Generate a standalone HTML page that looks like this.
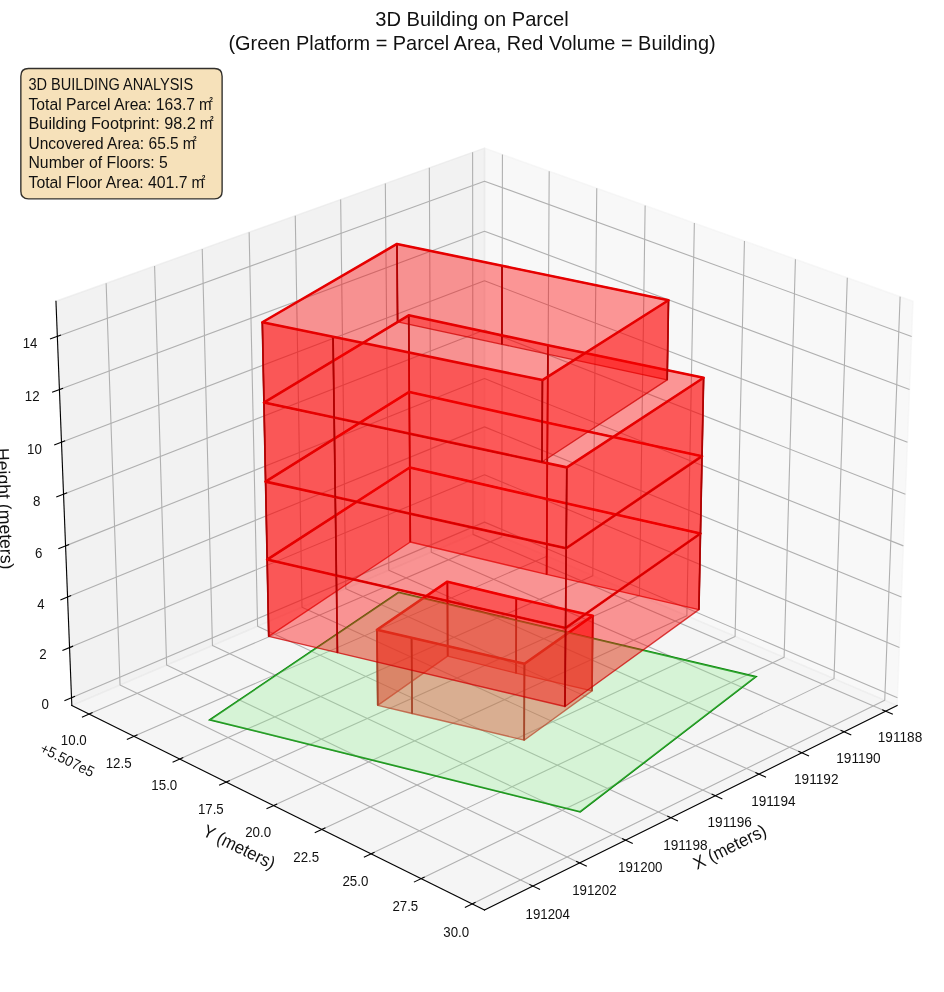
<!DOCTYPE html>
<html><head><meta charset="utf-8"><title>3D Building on Parcel</title>
<style>html,body{margin:0;padding:0;background:#fff}body{width:944px;height:992px;overflow:hidden;font-family:"Liberation Sans",sans-serif}</style></head>
<body>
<svg width="944" height="992" viewBox="0 0 944 992" style="display:block;font-family:'Liberation Sans',sans-serif">
<rect width="944" height="992" fill="#fff"/>
<g stroke-linejoin="round">
<polygon points="484.49,529.49 897.14,705.55 913.01,301.25 484.49,148.07" fill="rgb(242,242,242)" fill-opacity="0.5" stroke="rgb(242,242,242)" stroke-opacity="0.5" stroke-width="1.39"/>
<polygon points="484.49,529.49 71.83,705.55 55.96,301.25 484.49,148.07" fill="rgb(230,230,230)" fill-opacity="0.5" stroke="rgb(230,230,230)" stroke-opacity="0.5" stroke-width="1.39"/>
<polygon points="484.49,529.49 71.83,705.55 484.49,910.12 897.14,705.55" fill="rgb(236,236,236)" fill-opacity="0.5" stroke="rgb(236,236,236)" stroke-opacity="0.5" stroke-width="1.39"/>
</g>
<g fill="none" stroke="#b0b0b0" stroke-width="1.1" stroke-linejoin="round">
<polyline points="885.74,711.21 473.02,534.38 472.61,152.31"/>
<polyline points="844.15,731.82 431.24,552.21 429.32,167.79"/>
<polyline points="801.88,752.78 388.81,570.31 385.34,183.51"/>
<polyline points="758.91,774.08 345.74,588.69 340.66,199.48"/>
<polyline points="715.22,795.74 301.99,607.35 295.26,215.71"/>
<polyline points="670.8,817.76 257.57,626.31 249.13,232.2"/>
<polyline points="625.62,840.15 212.45,645.56 202.24,248.96"/>
<polyline points="579.67,862.93 166.61,665.12 154.58,265.99"/>
<polyline points="532.93,886.1 120.03,684.99 106.14,283.31"/>
<polyline points="502.42,154.48 501.8,536.88 89.05,714.09"/>
<polyline points="549.19,171.2 546.93,556.13 133.98,736.36"/>
<polyline points="596.76,188.2 592.81,575.71 179.71,759.03"/>
<polyline points="645.14,205.49 639.45,595.61 226.25,782.1"/>
<polyline points="694.36,223.09 686.87,615.84 273.63,805.59"/>
<polyline points="744.45,240.99 735.08,636.41 321.87,829.51"/>
<polyline points="795.42,259.21 784.12,657.33 371.01,853.86"/>
<polyline points="847.3,277.76 834.01,678.62 421.05,878.67"/>
<polyline points="900.11,296.63 884.75,700.27 472.03,903.94"/>
<polyline points="71.52,697.76 484.49,522.12 897.45,697.76"/>
<polyline points="69.56,647.61 484.49,474.7 899.42,647.61"/>
<polyline points="67.57,596.99 484.49,426.87 901.4,596.99"/>
<polyline points="65.56,545.87 484.49,378.6 903.41,545.87"/>
<polyline points="63.54,494.26 484.49,329.91 905.44,494.26"/>
<polyline points="61.49,442.15 484.49,280.77 907.48,442.15"/>
<polyline points="59.43,389.54 484.49,231.19 909.55,389.54"/>
<polyline points="57.34,336.4 484.49,181.15 911.63,336.4"/>
</g>
<g fill="none" stroke="#000" stroke-width="1.1" stroke-linecap="square">
<polyline points="897.14,705.55 484.49,910.12"/>
<polyline points="71.83,705.55 484.49,910.12"/>
<polyline points="71.83,705.55 55.96,301.25"/>
</g>
<g fill="none" stroke="#000" stroke-width="1.1" stroke-linecap="butt">
<polyline points="882.19,709.69 892.85,714.25"/>
<polyline points="840.6,730.28 851.27,734.92"/>
<polyline points="798.33,751.21 809,755.92"/>
<polyline points="755.35,772.48 766.04,777.28"/>
<polyline points="711.66,794.11 722.36,798.99"/>
<polyline points="667.24,816.11 677.94,821.07"/>
<polyline points="622.06,838.47 632.76,843.52"/>
<polyline points="576.11,861.22 586.82,866.35"/>
<polyline points="529.37,884.37 540.08,889.58"/>
<polyline points="92.6,712.57 81.94,717.14"/>
<polyline points="137.53,734.81 126.86,739.47"/>
<polyline points="183.26,757.45 172.58,762.19"/>
<polyline points="229.81,780.5 219.12,785.32"/>
<polyline points="277.19,803.96 266.49,808.87"/>
<polyline points="325.44,827.84 314.74,832.84"/>
<polyline points="374.57,852.17 363.86,857.26"/>
<polyline points="424.61,876.94 413.9,882.13"/>
<polyline points="475.59,902.18 464.88,907.47"/>
<polyline points="75.07,696.25 64.41,700.79"/>
<polyline points="73.12,646.13 62.41,650.59"/>
<polyline points="71.15,595.52 60.38,599.92"/>
<polyline points="69.17,544.43 58.34,548.76"/>
<polyline points="67.16,492.85 56.28,497.1"/>
<polyline points="65.13,440.77 54.19,444.94"/>
<polyline points="63.09,388.17 52.09,392.27"/>
<polyline points="61.02,335.06 49.97,339.08"/>
</g>
<polygon points="210,719.76 398.59,592.48 755.88,676.78 580.18,811.75" fill="none" stroke="#008000" stroke-width="1.75" stroke-linejoin="miter"/>
<g stroke-linejoin="round" stroke-linecap="round">
<polygon points="546.62,574.4 410.3,542.02 409.78,467.51 547.06,499.09" fill="rgb(255,0,0)" fill-opacity="0.4" stroke="#cc0000" stroke-opacity="0.72" stroke-width="1.35"/>
<path d="M410.3 542.02L409.78 467.51M547.06 499.09L546.62 574.4" fill="none" stroke="#a00000" stroke-opacity="0.62" stroke-width="1.7" stroke-linecap="butt"/>
<polygon points="516.07,673.15 447.66,656.12 447.4,581.69 516.29,598.32" fill="rgb(255,0,0)" fill-opacity="0.4" stroke="#cc0000" stroke-opacity="0.72" stroke-width="1.35"/>
<path d="M447.66 656.12L447.4 581.69M516.29 598.32L516.07 673.15" fill="none" stroke="#a00000" stroke-opacity="0.62" stroke-width="1.7" stroke-linecap="butt"/>
<polygon points="547.06,499.09 409.78,467.51 409.26,391.94 547.5,422.7" fill="rgb(255,0,0)" fill-opacity="0.4" stroke="#cc0000" stroke-opacity="0.72" stroke-width="1.35"/>
<path d="M409.78 467.51L409.26 391.94M547.5 422.7L547.06 499.09" fill="none" stroke="#a00000" stroke-opacity="0.62" stroke-width="1.7" stroke-linecap="butt"/>
<polygon points="592.02,690.89 516.07,673.15 516.29,598.32 592.79,615.65" fill="rgb(255,0,0)" fill-opacity="0.4" stroke="#cc0000" stroke-opacity="0.72" stroke-width="1.35"/>
<path d="M516.07 673.15L516.29 598.32M592.79 615.65L592.02 690.89" fill="none" stroke="#a00000" stroke-opacity="0.62" stroke-width="1.7" stroke-linecap="butt"/>
<polygon points="547.5,422.7 409.26,391.94 408.72,315.31 547.96,345.21" fill="rgb(255,0,0)" fill-opacity="0.4" stroke="#cc0000" stroke-opacity="0.72" stroke-width="1.35"/>
<path d="M409.26 391.94L408.72 315.31M547.96 345.21L547.5 422.7" fill="none" stroke="#a00000" stroke-opacity="0.62" stroke-width="1.7" stroke-linecap="butt"/>
<polygon points="698.92,609.65 546.62,574.4 547.06,499.09 700.46,533.47" fill="rgb(255,0,0)" fill-opacity="0.4" stroke="#cc0000" stroke-opacity="0.72" stroke-width="1.35"/>
<path d="M546.62 574.4L547.06 499.09M700.46 533.47L698.92 609.65" fill="none" stroke="#a00000" stroke-opacity="0.62" stroke-width="1.7" stroke-linecap="butt"/>
<polygon points="447.66,656.12 377.74,705.36 376.98,629.79 447.4,581.69" fill="rgb(255,0,0)" fill-opacity="0.4" stroke="#cc0000" stroke-opacity="0.72" stroke-width="1.35"/>
<path d="M377.74 705.36L376.98 629.79M447.4 581.69L447.66 656.12" fill="none" stroke="#a00000" stroke-opacity="0.62" stroke-width="1.7" stroke-linecap="butt"/>
<polygon points="377.74,705.36 412.09,713.48 411.57,637.72 376.98,629.79" fill="rgb(255,0,0)" fill-opacity="0.4" stroke="#cc0000" stroke-opacity="0.72" stroke-width="1.35"/>
<path d="M412.09 713.48L411.57 637.72M376.98 629.79L377.74 705.36" fill="none" stroke="#a00000" stroke-opacity="0.62" stroke-width="1.7" stroke-linecap="butt"/>
<polygon points="501.97,344.31 397.58,321.91 396.96,243.99 502.1,265.73" fill="rgb(255,0,0)" fill-opacity="0.4" stroke="#cc0000" stroke-opacity="0.72" stroke-width="1.35"/>
<path d="M397.58 321.91L396.96 243.99M502.1 265.73L501.97 344.31" fill="none" stroke="#a00000" stroke-opacity="0.62" stroke-width="1.7" stroke-linecap="butt"/>
<polygon points="700.46,533.47 547.06,499.09 547.5,422.7 702.02,456.19" fill="rgb(255,0,0)" fill-opacity="0.4" stroke="#cc0000" stroke-opacity="0.72" stroke-width="1.35"/>
<path d="M547.06 499.09L547.5 422.7M702.02 456.19L700.46 533.47" fill="none" stroke="#a00000" stroke-opacity="0.62" stroke-width="1.7" stroke-linecap="butt"/>
<polygon points="410.3,542.02 268.72,636.41 267.16,559.58 409.78,467.51" fill="rgb(255,0,0)" fill-opacity="0.4" stroke="#cc0000" stroke-opacity="0.72" stroke-width="1.35"/>
<path d="M268.72 636.41L267.16 559.58M409.78 467.51L410.3 542.02" fill="none" stroke="#a00000" stroke-opacity="0.62" stroke-width="1.7" stroke-linecap="butt"/>
<polygon points="702.02,456.19 547.5,422.7 547.96,345.21 703.61,377.78" fill="rgb(255,0,0)" fill-opacity="0.4" stroke="#cc0000" stroke-opacity="0.72" stroke-width="1.35"/>
<path d="M547.5 422.7L547.96 345.21M703.61 377.78L702.02 456.19" fill="none" stroke="#a00000" stroke-opacity="0.62" stroke-width="1.7" stroke-linecap="butt"/>
<polygon points="412.09,713.48 524.17,740.18 524.46,663.81 411.57,637.72" fill="rgb(255,0,0)" fill-opacity="0.4" stroke="#cc0000" stroke-opacity="0.72" stroke-width="1.35"/>
<path d="M524.17 740.18L524.46 663.81M411.57 637.72L412.09 713.48" fill="none" stroke="#a00000" stroke-opacity="0.62" stroke-width="1.7" stroke-linecap="butt"/>
<polygon points="524.17,740.18 592.02,690.89 592.79,615.65 524.46,663.81" fill="rgb(255,0,0)" fill-opacity="0.4" stroke="#cc0000" stroke-opacity="0.72" stroke-width="1.35"/>
<path d="M592.02 690.89L592.79 615.65M524.46 663.81L524.17 740.18" fill="none" stroke="#a00000" stroke-opacity="0.62" stroke-width="1.7" stroke-linecap="butt"/>
<polygon points="376.98,629.79 411.57,637.72 524.46,663.81 592.79,615.65 516.29,598.32 447.4,581.69" fill="none" stroke="#e60000" stroke-width="2.6"/>
<polygon points="210,719.76 398.59,592.48 755.88,676.78 580.18,811.75" fill="rgb(144,238,144)" fill-opacity="0.3" stroke="rgb(144,238,144)" stroke-opacity="0.3" stroke-width="0.6"/>
<polygon points="268.72,636.41 337.45,652.65 336.38,575.43 267.16,559.58" fill="rgb(255,0,0)" fill-opacity="0.4" stroke="#cc0000" stroke-opacity="0.72" stroke-width="1.35"/>
<path d="M337.45 652.65L336.38 575.43M267.16 559.58L268.72 636.41" fill="none" stroke="#a00000" stroke-opacity="0.62" stroke-width="1.7" stroke-linecap="butt"/>
<polygon points="409.78,467.51 267.16,559.58 265.57,481.63 409.26,391.94" fill="rgb(255,0,0)" fill-opacity="0.4" stroke="#cc0000" stroke-opacity="0.72" stroke-width="1.35"/>
<path d="M267.16 559.58L265.57 481.63M409.26 391.94L409.78 467.51" fill="none" stroke="#a00000" stroke-opacity="0.62" stroke-width="1.7" stroke-linecap="butt"/>
<polygon points="667.18,379.88 501.97,344.31 502.1,265.73 668.52,300.26" fill="rgb(255,0,0)" fill-opacity="0.4" stroke="#cc0000" stroke-opacity="0.72" stroke-width="1.35"/>
<path d="M501.97 344.31L502.1 265.73M668.52 300.26L667.18 379.88" fill="none" stroke="#a00000" stroke-opacity="0.62" stroke-width="1.7" stroke-linecap="butt"/>
<polygon points="267.16,559.58 336.38,575.43 335.29,497.07 265.57,481.63" fill="rgb(255,0,0)" fill-opacity="0.4" stroke="#cc0000" stroke-opacity="0.72" stroke-width="1.35"/>
<path d="M336.38 575.43L335.29 497.07M265.57 481.63L267.16 559.58" fill="none" stroke="#a00000" stroke-opacity="0.62" stroke-width="1.7" stroke-linecap="butt"/>
<polygon points="409.26,391.94 265.57,481.63 263.95,402.53 408.72,315.31" fill="rgb(255,0,0)" fill-opacity="0.4" stroke="#cc0000" stroke-opacity="0.72" stroke-width="1.35"/>
<path d="M265.57 481.63L263.95 402.53M408.72 315.31L409.26 391.94" fill="none" stroke="#a00000" stroke-opacity="0.62" stroke-width="1.7" stroke-linecap="butt"/>
<polygon points="265.57,481.63 335.29,497.07 334.18,417.55 263.95,402.53" fill="rgb(255,0,0)" fill-opacity="0.4" stroke="#cc0000" stroke-opacity="0.72" stroke-width="1.35"/>
<path d="M335.29 497.07L334.18 417.55M263.95 402.53L265.57 481.63" fill="none" stroke="#a00000" stroke-opacity="0.62" stroke-width="1.7" stroke-linecap="butt"/>
<polygon points="397.58,321.91 263.95,402.53 262.32,322.25 396.96,243.99" fill="rgb(255,0,0)" fill-opacity="0.4" stroke="#cc0000" stroke-opacity="0.72" stroke-width="1.35"/>
<path d="M263.95 402.53L262.32 322.25M396.96 243.99L397.58 321.91" fill="none" stroke="#a00000" stroke-opacity="0.62" stroke-width="1.7" stroke-linecap="butt"/>
<polygon points="337.45,652.65 564.97,706.47 565.58,627.96 336.38,575.43" fill="rgb(255,0,0)" fill-opacity="0.4" stroke="#cc0000" stroke-opacity="0.72" stroke-width="1.35"/>
<path d="M564.97 706.47L565.58 627.96M336.38 575.43L337.45 652.65" fill="none" stroke="#a00000" stroke-opacity="0.62" stroke-width="1.7" stroke-linecap="butt"/>
<polygon points="564.97,706.47 698.92,609.65 700.46,533.47 565.58,627.96" fill="rgb(255,0,0)" fill-opacity="0.4" stroke="#cc0000" stroke-opacity="0.72" stroke-width="1.35"/>
<path d="M698.92 609.65L700.46 533.47M565.58 627.96L564.97 706.47" fill="none" stroke="#a00000" stroke-opacity="0.62" stroke-width="1.7" stroke-linecap="butt"/>
<polygon points="267.16,559.58 336.38,575.43 565.58,627.96 700.46,533.47 547.06,499.09 409.78,467.51" fill="none" stroke="#e60000" stroke-width="2.6"/>
<polygon points="263.95,402.53 334.18,417.55 333.06,336.84 262.32,322.25" fill="rgb(255,0,0)" fill-opacity="0.4" stroke="#cc0000" stroke-opacity="0.72" stroke-width="1.35"/>
<path d="M334.18 417.55L333.06 336.84M262.32 322.25L263.95 402.53" fill="none" stroke="#a00000" stroke-opacity="0.62" stroke-width="1.7" stroke-linecap="butt"/>
<polygon points="336.38,575.43 565.58,627.96 566.19,548.27 335.29,497.07" fill="rgb(255,0,0)" fill-opacity="0.4" stroke="#cc0000" stroke-opacity="0.72" stroke-width="1.35"/>
<path d="M565.58 627.96L566.19 548.27M335.29 497.07L336.38 575.43" fill="none" stroke="#a00000" stroke-opacity="0.62" stroke-width="1.7" stroke-linecap="butt"/>
<polygon points="565.58,627.96 700.46,533.47 702.02,456.19 566.19,548.27" fill="rgb(255,0,0)" fill-opacity="0.4" stroke="#cc0000" stroke-opacity="0.72" stroke-width="1.35"/>
<path d="M700.46 533.47L702.02 456.19M566.19 548.27L565.58 627.96" fill="none" stroke="#a00000" stroke-opacity="0.62" stroke-width="1.7" stroke-linecap="butt"/>
<polygon points="265.57,481.63 335.29,497.07 566.19,548.27 702.02,456.19 547.5,422.7 409.26,391.94" fill="none" stroke="#e60000" stroke-width="2.6"/>
<polygon points="335.29,497.07 566.19,548.27 566.81,467.37 334.18,417.55" fill="rgb(255,0,0)" fill-opacity="0.4" stroke="#cc0000" stroke-opacity="0.72" stroke-width="1.35"/>
<path d="M566.19 548.27L566.81 467.37M334.18 417.55L335.29 497.07" fill="none" stroke="#a00000" stroke-opacity="0.62" stroke-width="1.7" stroke-linecap="butt"/>
<polygon points="566.19,548.27 702.02,456.19 703.61,377.78 566.81,467.37" fill="rgb(255,0,0)" fill-opacity="0.4" stroke="#cc0000" stroke-opacity="0.72" stroke-width="1.35"/>
<path d="M702.02 456.19L703.61 377.78M566.81 467.37L566.19 548.27" fill="none" stroke="#a00000" stroke-opacity="0.62" stroke-width="1.7" stroke-linecap="butt"/>
<polygon points="263.95,402.53 334.18,417.55 566.81,467.37 703.61,377.78 547.96,345.21 408.72,315.31" fill="none" stroke="#e60000" stroke-width="2.6"/>
<polygon points="334.18,417.55 541.99,462.04 542.43,380.06 333.06,336.84" fill="rgb(255,0,0)" fill-opacity="0.4" stroke="#cc0000" stroke-opacity="0.72" stroke-width="1.35"/>
<path d="M541.99 462.04L542.43 380.06M333.06 336.84L334.18 417.55" fill="none" stroke="#a00000" stroke-opacity="0.62" stroke-width="1.7" stroke-linecap="butt"/>
<polygon points="541.99,462.04 667.18,379.88 668.52,300.26 542.43,380.06" fill="rgb(255,0,0)" fill-opacity="0.4" stroke="#cc0000" stroke-opacity="0.72" stroke-width="1.35"/>
<path d="M667.18 379.88L668.52 300.26M542.43 380.06L541.99 462.04" fill="none" stroke="#a00000" stroke-opacity="0.62" stroke-width="1.7" stroke-linecap="butt"/>
<polygon points="262.32,322.25 333.06,336.84 542.43,380.06 668.52,300.26 502.1,265.73 396.96,243.99" fill="none" stroke="#e60000" stroke-width="2.6"/>
</g>
<path d="M28.48 198.82 L214.48 198.82 Q222.12 198.82 222.12 191.18 L222.12 76.18 Q222.12 68.54 214.48 68.54 L28.48 68.54 Q20.84 68.54 20.84 76.18 L20.84 191.18 Q20.84 198.82 28.48 198.82 Z" fill="rgb(245,222,179)" fill-opacity="0.9" stroke="#000" stroke-opacity="0.8" stroke-width="1.39" stroke-linejoin="miter"/>
<g opacity="0.999">
<text transform="translate(375.25,25.68)" font-size="20.81" fill="#111" textLength="193.5" lengthAdjust="spacingAndGlyphs">3D Building on Parcel</text>
<text transform="translate(228.38,50.07)" font-size="20.81" fill="#111" textLength="487.25" lengthAdjust="spacingAndGlyphs">(Green Platform = Parcel Area, Red Volume = Building)</text>
<text transform="translate(28.48,89.98)" font-size="16.35" fill="#111" textLength="164.62" lengthAdjust="spacingAndGlyphs">3D BUILDING ANALYSIS</text>
<g transform="translate(28.48,109.58)" fill="#111"><text font-size="16.35" textLength="166.62" lengthAdjust="spacingAndGlyphs">Total Parcel Area: 163.7</text><text x="170.6" font-size="16.02" textLength="12.6" lengthAdjust="spacingAndGlyphs">m</text><text x="180.9" y="-7.9" font-size="7" font-weight="bold" textLength="3.7" lengthAdjust="spacingAndGlyphs">2</text></g>
<g transform="translate(28.48,129.18)" fill="#111"><text font-size="16.35" textLength="167.38" lengthAdjust="spacingAndGlyphs">Building Footprint: 98.2</text><text x="171.35" font-size="16.02" textLength="12.6" lengthAdjust="spacingAndGlyphs">m</text><text x="181.65" y="-7.9" font-size="7" font-weight="bold" textLength="3.7" lengthAdjust="spacingAndGlyphs">2</text></g>
<g transform="translate(28.48,148.78)" fill="#111"><text font-size="16.35" textLength="150.25" lengthAdjust="spacingAndGlyphs">Uncovered Area: 65.5</text><text x="154.22" font-size="16.02" textLength="12.6" lengthAdjust="spacingAndGlyphs">m</text><text x="164.53" y="-7.9" font-size="7" font-weight="bold" textLength="3.7" lengthAdjust="spacingAndGlyphs">2</text></g>
<text transform="translate(28.48,168.38)" font-size="16.35" fill="#111" textLength="139.38" lengthAdjust="spacingAndGlyphs">Number of Floors: 5</text>
<g transform="translate(28.48,187.98)" fill="#111"><text font-size="16.35" textLength="159.12" lengthAdjust="spacingAndGlyphs">Total Floor Area: 401.7</text><text x="163.1" font-size="16.02" textLength="12.6" lengthAdjust="spacingAndGlyphs">m</text><text x="173.4" y="-7.9" font-size="7" font-weight="bold" textLength="3.7" lengthAdjust="spacingAndGlyphs">2</text></g>
<text transform="translate(877.79,742.18)" font-size="14.86" fill="#111" textLength="44.41" lengthAdjust="spacingAndGlyphs">191188</text>
<text transform="translate(836.26,762.98)" font-size="14.86" fill="#111" textLength="44.41" lengthAdjust="spacingAndGlyphs">191190</text>
<text transform="translate(794.05,784.12)" font-size="14.86" fill="#111" textLength="44.41" lengthAdjust="spacingAndGlyphs">191192</text>
<text transform="translate(751.21,805.62)" font-size="14.86" fill="#111" textLength="44.29" lengthAdjust="spacingAndGlyphs">191194</text>
<text transform="translate(707.52,827.47)" font-size="14.86" fill="#111" textLength="44.41" lengthAdjust="spacingAndGlyphs">191196</text>
<text transform="translate(663.16,849.69)" font-size="14.86" fill="#111" textLength="44.41" lengthAdjust="spacingAndGlyphs">191198</text>
<text transform="translate(618.05,872.28)" font-size="14.86" fill="#111" textLength="44.41" lengthAdjust="spacingAndGlyphs">191200</text>
<text transform="translate(572.17,895.27)" font-size="14.86" fill="#111" textLength="44.41" lengthAdjust="spacingAndGlyphs">191202</text>
<text transform="translate(525.55,918.65)" font-size="14.86" fill="#111" textLength="44.29" lengthAdjust="spacingAndGlyphs">191204</text>
<text transform="translate(697.08,869.91) rotate(-26.37)" font-size="17.83" fill="#111" textLength="79" lengthAdjust="spacingAndGlyphs">X (meters)</text>
<text transform="translate(60.84,745.09)" font-size="14.86" fill="#111" textLength="25.9" lengthAdjust="spacingAndGlyphs">10.0</text>
<text transform="translate(105.7,767.56)" font-size="14.86" fill="#111" textLength="25.9" lengthAdjust="spacingAndGlyphs">12.5</text>
<text transform="translate(151.36,790.43)" font-size="14.86" fill="#111" textLength="25.9" lengthAdjust="spacingAndGlyphs">15.0</text>
<text transform="translate(197.89,813.71)" font-size="14.86" fill="#111" textLength="25.79" lengthAdjust="spacingAndGlyphs">17.5</text>
<text transform="translate(245.15,837.41)" font-size="14.86" fill="#111" textLength="25.9" lengthAdjust="spacingAndGlyphs">20.0</text>
<text transform="translate(293.32,861.54)" font-size="14.86" fill="#111" textLength="25.9" lengthAdjust="spacingAndGlyphs">22.5</text>
<text transform="translate(342.38,886.12)" font-size="14.86" fill="#111" textLength="25.9" lengthAdjust="spacingAndGlyphs">25.0</text>
<text transform="translate(392.42,911.15)" font-size="14.86" fill="#111" textLength="25.79" lengthAdjust="spacingAndGlyphs">27.5</text>
<text transform="translate(443.33,936.65)" font-size="14.86" fill="#111" textLength="25.79" lengthAdjust="spacingAndGlyphs">30.0</text>
<text transform="translate(201.4,834.96) rotate(-333.63)" font-size="17.83" fill="#111" textLength="78.38" lengthAdjust="spacingAndGlyphs">Y (meters)</text>
<text transform="translate(39.07,751.7) rotate(-333.63)" font-size="14.86" fill="#111" textLength="58" lengthAdjust="spacingAndGlyphs">+5.507e5</text>
<text transform="translate(41.41,709.46)" font-size="14.86" fill="#111" textLength="7.4" lengthAdjust="spacingAndGlyphs">0</text>
<text transform="translate(39.31,659.31)" font-size="14.86" fill="#111" textLength="7.4" lengthAdjust="spacingAndGlyphs">2</text>
<text transform="translate(37.25,608.69)" font-size="14.86" fill="#111" textLength="7.28" lengthAdjust="spacingAndGlyphs">4</text>
<text transform="translate(35.05,557.57)" font-size="14.86" fill="#111" textLength="7.4" lengthAdjust="spacingAndGlyphs">6</text>
<text transform="translate(32.89,505.96)" font-size="14.86" fill="#111" textLength="7.4" lengthAdjust="spacingAndGlyphs">8</text>
<text transform="translate(27.01,453.85)" font-size="14.86" fill="#111" textLength="14.8" lengthAdjust="spacingAndGlyphs">10</text>
<text transform="translate(24.81,401.24)" font-size="14.86" fill="#111" textLength="14.8" lengthAdjust="spacingAndGlyphs">12</text>
<text transform="translate(22.64,348.1)" font-size="14.86" fill="#111" textLength="14.68" lengthAdjust="spacingAndGlyphs">14</text>
<text transform="translate(-3.61,448.35) rotate(-272.25)" font-size="17.83" fill="#111" textLength="121.38" lengthAdjust="spacingAndGlyphs">Height (meters)</text>
</g>
</svg>
</body></html>
